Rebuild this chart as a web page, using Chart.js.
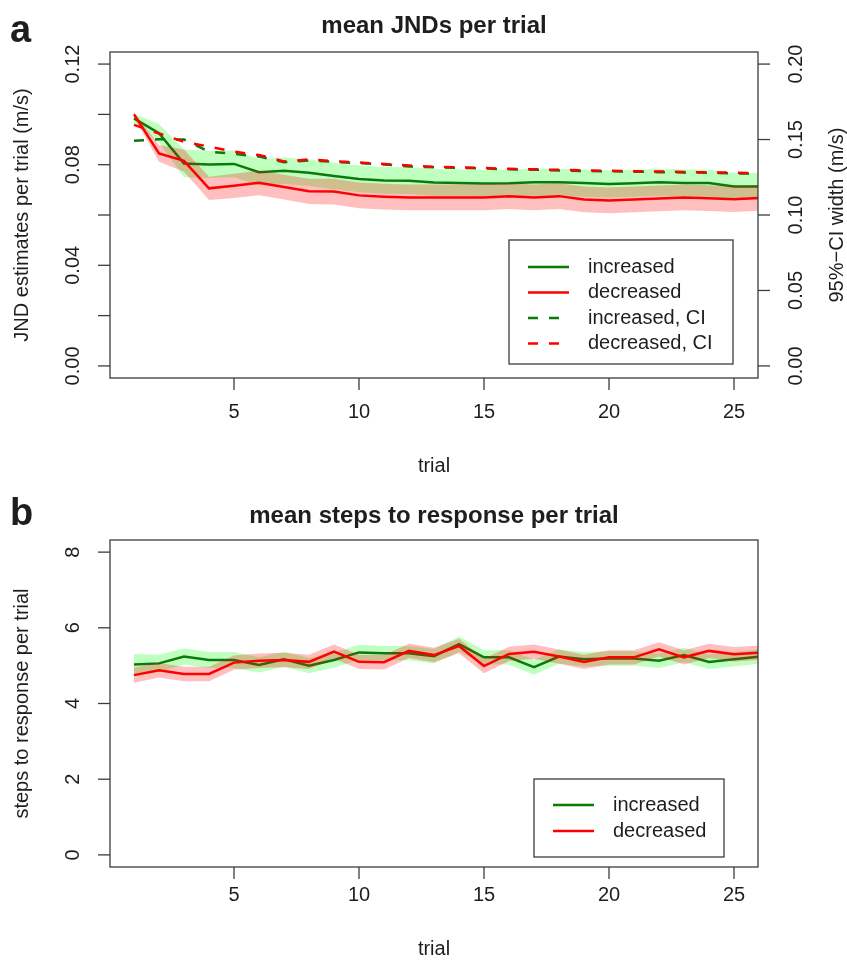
<!DOCTYPE html>
<html>
<head>
<meta charset="utf-8">
<script src="https://cdn.jsdelivr.net/npm/chart.js@4.4.0/dist/chart.umd.min.js"></script>
<style>
  body { margin: 0; background: #ffffff; width: 847px; height: 967px; overflow: hidden; position: relative; }
  canvas { position: absolute; left: 0; }
  #panelA { top: 0; }
  #panelB { top: 483px; }
</style>
</head>
<body>
<canvas id="panelA" width="847" height="483" style="width:847px;height:483px"></canvas>
<canvas id="panelB" width="847" height="484" style="width:847px;height:484px"></canvas>
<script>
// ---- data ----
const trials = [1, 2, 3, 4, 5, 6, 7, 8, 9, 10, 11, 12, 13, 14, 15, 16, 17, 18, 19, 20, 21, 22, 23, 24, 25, 26];

// panel a: mean JND (m/s) with CI band
const jndIncMean = [0.0984, 0.0925, 0.0805, 0.0801, 0.0803, 0.0770, 0.0776, 0.0768, 0.0755, 0.0743, 0.0737, 0.0736, 0.0729, 0.0727, 0.0725, 0.0726, 0.0730, 0.0730, 0.0727, 0.0723, 0.0726, 0.0730, 0.0727, 0.0727, 0.0713, 0.0713];
const jndIncHi   = [0.1003, 0.0962, 0.0860, 0.0855, 0.0856, 0.0823, 0.0829, 0.0821, 0.0808, 0.0797, 0.0791, 0.0790, 0.0783, 0.0781, 0.0779, 0.0780, 0.0784, 0.0784, 0.0781, 0.0777, 0.0780, 0.0783, 0.0781, 0.0780, 0.0768, 0.0767];
const jndIncLo   = [0.0965, 0.0888, 0.0750, 0.0747, 0.0750, 0.0717, 0.0723, 0.0715, 0.0702, 0.0690, 0.0684, 0.0683, 0.0676, 0.0674, 0.0672, 0.0673, 0.0677, 0.0676, 0.0673, 0.0670, 0.0673, 0.0677, 0.0674, 0.0674, 0.0660, 0.0660];
const jndDecMean = [0.1000, 0.0845, 0.0815, 0.0706, 0.0716, 0.0728, 0.0711, 0.0694, 0.0693, 0.0678, 0.0673, 0.0670, 0.0670, 0.0670, 0.0670, 0.0675, 0.0670, 0.0675, 0.0662, 0.0658, 0.0662, 0.0666, 0.0670, 0.0667, 0.0663, 0.0668];
const jndDecHi   = [0.1008, 0.0878, 0.0860, 0.0752, 0.0764, 0.0777, 0.0760, 0.0744, 0.0744, 0.0729, 0.0724, 0.0721, 0.0721, 0.0721, 0.0721, 0.0726, 0.0721, 0.0726, 0.0713, 0.0709, 0.0713, 0.0717, 0.0721, 0.0718, 0.0714, 0.0719];
const jndDecLo   = [0.0990, 0.0812, 0.0772, 0.0660, 0.0668, 0.0679, 0.0662, 0.0644, 0.0642, 0.0627, 0.0622, 0.0619, 0.0619, 0.0619, 0.0619, 0.0624, 0.0619, 0.0624, 0.0611, 0.0607, 0.0611, 0.0615, 0.0619, 0.0616, 0.0612, 0.0617];

// panel a, right axis: 95%-CI width (m/s)
const ciIncWidth = [0.1492, 0.1502, 0.1500, 0.1420, 0.1405, 0.1387, 0.1350, 0.1362, 0.1352, 0.1343, 0.1335, 0.1322, 0.1316, 0.1313, 0.1308, 0.1303, 0.1300, 0.1295, 0.1292, 0.1290, 0.1287, 0.1284, 0.1282, 0.1280, 0.1276, 0.1274];
const ciDecWidth = [0.1597, 0.1540, 0.1485, 0.1453, 0.1420, 0.1397, 0.1355, 0.1368, 0.1356, 0.1348, 0.1338, 0.1328, 0.1320, 0.1316, 0.1311, 0.1306, 0.1303, 0.1299, 0.1296, 0.1293, 0.1290, 0.1288, 0.1285, 0.1283, 0.1280, 0.1278];

// panel b: steps to response
const stepsIncMean = [5.03, 5.06, 5.24, 5.15, 5.15, 5.02, 5.17, 5.00, 5.15, 5.35, 5.33, 5.33, 5.25, 5.57, 5.22, 5.22, 4.96, 5.24, 5.17, 5.19, 5.19, 5.13, 5.28, 5.10, 5.17, 5.24];
const stepsIncHi   = [5.31, 5.29, 5.45, 5.36, 5.36, 5.22, 5.37, 5.20, 5.35, 5.55, 5.52, 5.52, 5.44, 5.77, 5.41, 5.41, 5.16, 5.43, 5.36, 5.38, 5.38, 5.32, 5.47, 5.29, 5.36, 5.43];
const stepsIncLo   = [4.75, 4.83, 5.03, 4.94, 4.94, 4.82, 4.97, 4.80, 4.95, 5.15, 5.14, 5.14, 5.06, 5.37, 5.03, 5.03, 4.76, 5.05, 4.98, 5.00, 5.00, 4.94, 5.09, 4.91, 4.98, 5.05];
const stepsDecMean = [4.75, 4.88, 4.78, 4.78, 5.08, 5.13, 5.15, 5.10, 5.37, 5.10, 5.09, 5.39, 5.28, 5.52, 4.99, 5.31, 5.37, 5.24, 5.10, 5.22, 5.22, 5.43, 5.22, 5.39, 5.30, 5.34];
const stepsDecHi   = [4.95, 5.07, 4.97, 4.97, 5.27, 5.32, 5.34, 5.29, 5.56, 5.29, 5.28, 5.58, 5.47, 5.71, 5.18, 5.50, 5.56, 5.43, 5.29, 5.41, 5.41, 5.62, 5.41, 5.58, 5.49, 5.53];
const stepsDecLo   = [4.55, 4.69, 4.59, 4.59, 4.89, 4.94, 4.96, 4.91, 5.18, 4.91, 4.90, 5.20, 5.09, 5.33, 4.80, 5.12, 5.18, 5.05, 4.91, 5.03, 5.03, 5.24, 5.03, 5.20, 5.11, 5.15];

// ticks
const xTicks = [5, 10, 15, 20, 25];
const jndTicks = [0, 0.02, 0.04, 0.06, 0.08, 0.10, 0.12];
const jndTickLabels = ['0.00', '', '0.04', '', '0.08', '', '0.12'];
const ciTicks = [0, 0.05, 0.10, 0.15, 0.20];
const ciTickLabels = ['0.00', '0.05', '0.10', '0.15', '0.20'];
const stepTicks = [0, 2, 4, 6, 8];
const stepTickLabels = ['0', '2', '4', '6', '8'];

const seriesLabels = ['increased', 'decreased', 'increased, CI', 'decreased, CI'];

// ---- style ----
const FONT = '"Liberation Sans", Arial, sans-serif';
const GREEN = '#0b7a0b';
const RED = '#ff0000';
const GREEN_BAND = 'rgba(0,255,0,0.25)';
const RED_BAND = 'rgba(255,0,0,0.25)';
const AXIS = '#3c3c3c';
const INK = '#1e1e1e';
const DASH = [10, 11];

function pts(vals) {
  return trials.map((t, i) => ({ x: t, y: vals[i] }));
}

function bandPair(lo, hi, color, order, axis) {
  return [
    { label: 'lo', data: pts(lo), yAxisID: axis, borderWidth: 0, pointRadius: 0, fill: false, order: order + 1, clip: 0 },
    { label: 'hi', data: pts(hi), yAxisID: axis, borderWidth: 0, pointRadius: 0, fill: '-1', backgroundColor: color, order: order, clip: 0 }
  ];
}

function lineSet(label, vals, color, order, axis, dash) {
  return {
    label: label, data: pts(vals), yAxisID: axis, borderColor: color, borderWidth: 2.5,
    borderDash: dash || [], pointRadius: 0, fill: false, tension: 0, order: order, clip: 0
  };
}

function vtext(ctx, txt, x, y) {
  ctx.save();
  ctx.translate(x, y);
  ctx.rotate(-Math.PI / 2);
  ctx.textAlign = 'center';
  ctx.textBaseline = 'middle';
  ctx.fillText(txt, 0, 0);
  ctx.restore();
}

function seg(ctx, x0, y0, x1, y1) {
  ctx.beginPath();
  ctx.moveTo(x0, y0);
  ctx.lineTo(x1, y1);
  ctx.stroke();
}

// draws the R-style frame, axes, titles and legend
function rPanel(cfg) {
  return {
    id: 'rPanel',
    afterDraw(chart) {
      const ctx = chart.ctx;
      const a = chart.chartArea;
      const xs = chart.scales.x;
      const ys = chart.scales.y;
      ctx.save();
      ctx.strokeStyle = AXIS;
      ctx.lineWidth = 1.3;
      ctx.setLineDash([]);
      ctx.strokeRect(a.left, a.top, a.right - a.left, a.bottom - a.top);

      ctx.fillStyle = INK;
      ctx.font = '20px ' + FONT;
      ctx.textAlign = 'center';
      ctx.textBaseline = 'middle';

      // x axis
      xTicks.forEach(v => {
        const px = xs.getPixelForValue(v);
        seg(ctx, px, a.bottom, px, a.bottom + 12);
        ctx.fillText(String(v), px, a.bottom + cfg.xLabelOff);
      });
      ctx.fillText('trial', (a.left + a.right) / 2, a.bottom + cfg.xTitleOff);

      // left y axis
      cfg.yTicks.forEach((v, i) => {
        const py = ys.getPixelForValue(v);
        seg(ctx, a.left - 12, py, a.left, py);
        if (cfg.yLabels[i]) vtext(ctx, cfg.yLabels[i], 73, py);
      });
      vtext(ctx, cfg.yTitle, 22, (a.top + a.bottom) / 2);

      // right y axis
      if (cfg.y2Ticks) {
        const y2 = chart.scales.y2;
        cfg.y2Ticks.forEach((v, i) => {
          const py = y2.getPixelForValue(v);
          seg(ctx, a.right, py, a.right + 12, py);
          vtext(ctx, cfg.y2Labels[i], 796, py);
        });
        vtext(ctx, cfg.y2Title, 837, (a.top + a.bottom) / 2);
      }

      // title and panel letter
      ctx.font = 'bold 24px ' + FONT;
      ctx.fillText(cfg.title, (a.left + a.right) / 2, cfg.titleY);
      ctx.font = 'bold 38px ' + FONT;
      ctx.textAlign = 'left';
      ctx.textBaseline = 'alphabetic';
      ctx.fillText(cfg.letter, 10, cfg.letterY);

      // legend
      const lg = cfg.legend;
      ctx.strokeStyle = AXIS;
      ctx.lineWidth = 1.3;
      ctx.strokeRect(lg.x, lg.y, lg.w, lg.h);
      ctx.font = '20px ' + FONT;
      ctx.textBaseline = 'middle';
      lg.items.forEach((it, i) => {
        const ry = lg.rowY + i * lg.step;
        ctx.strokeStyle = it.color;
        ctx.lineWidth = 2.5;
        ctx.setLineDash(it.dash || []);
        seg(ctx, lg.x + 19, ry, lg.x + 60, ry);
        ctx.setLineDash([]);
        ctx.fillStyle = INK;
        ctx.fillText(it.label, lg.x + 79, ry);
      });
      ctx.restore();
    }
  };
}

const baseOptions = (yMin, yMax, pad, withY2) => {
  const scales = {
    x: { type: 'linear', min: 0.04, max: 25.96, display: false },
    y: { type: 'linear', min: yMin, max: yMax, display: false }
  };
  if (withY2) scales.y2 = { type: 'linear', position: 'right', min: -0.008, max: 0.208, display: false };
  return {
    responsive: false,
    animation: false,
    events: [],
    layout: { padding: pad },
    scales: scales,
    plugins: {
      legend: { display: false },
      tooltip: { enabled: false },
      filler: { drawTime: 'beforeDatasetDraw' }
    }
  };
};

// ---- panel a: mean JNDs per trial ----
new Chart(document.getElementById('panelA'), {
  type: 'line',
  data: {
    datasets: [
      ...bandPair(jndIncLo, jndIncHi, GREEN_BAND, 8, 'y'),
      lineSet(seriesLabels[0], jndIncMean, GREEN, 7, 'y'),
      ...bandPair(jndDecLo, jndDecHi, RED_BAND, 5, 'y'),
      lineSet(seriesLabels[1], jndDecMean, RED, 4, 'y'),
      lineSet(seriesLabels[2], ciIncWidth, GREEN, 3, 'y2', DASH),
      lineSet(seriesLabels[3], ciDecWidth, RED, 2, 'y2', DASH)
    ]
  },
  options: baseOptions(-0.0048, 0.1248, { left: 110, right: 89, top: 52, bottom: 105 }, true),
  plugins: [rPanel({
    title: 'mean JNDs per trial', titleY: 26, letter: 'a', letterY: 42,
    yTicks: jndTicks, yLabels: jndTickLabels, yTitle: 'JND estimates per trial (m/s)',
    y2Ticks: ciTicks, y2Labels: ciTickLabels, y2Title: '95%\u2212CI width (m/s)',
    xLabelOff: 34, xTitleOff: 88,
    legend: {
      x: 509, y: 240, w: 224, h: 124, rowY: 267, step: 25.5,
      items: [
        { label: seriesLabels[0], color: GREEN },
        { label: seriesLabels[1], color: RED },
        { label: seriesLabels[2], color: GREEN, dash: DASH },
        { label: seriesLabels[3], color: RED, dash: DASH }
      ]
    }
  })]
});

// ---- panel b: mean steps to response per trial ----
new Chart(document.getElementById('panelB'), {
  type: 'line',
  data: {
    datasets: [
      ...bandPair(stepsIncLo, stepsIncHi, GREEN_BAND, 8, 'y'),
      lineSet(seriesLabels[0], stepsIncMean, GREEN, 7, 'y'),
      ...bandPair(stepsDecLo, stepsDecHi, RED_BAND, 5, 'y'),
      lineSet(seriesLabels[1], stepsDecMean, RED, 4, 'y')
    ]
  },
  options: baseOptions(-0.32, 8.32, { left: 110, right: 89, top: 57, bottom: 100 }, false),
  plugins: [rPanel({
    title: 'mean steps to response per trial', titleY: 33, letter: 'b', letterY: 42,
    yTicks: stepTicks, yLabels: stepTickLabels, yTitle: 'steps to response per trial',
    xLabelOff: 28, xTitleOff: 82,
    legend: {
      x: 534, y: 296, w: 190, h: 78, rowY: 322, step: 26,
      items: [
        { label: seriesLabels[0], color: GREEN },
        { label: seriesLabels[1], color: RED }
      ]
    }
  })]
});
</script>
</body>
</html>
